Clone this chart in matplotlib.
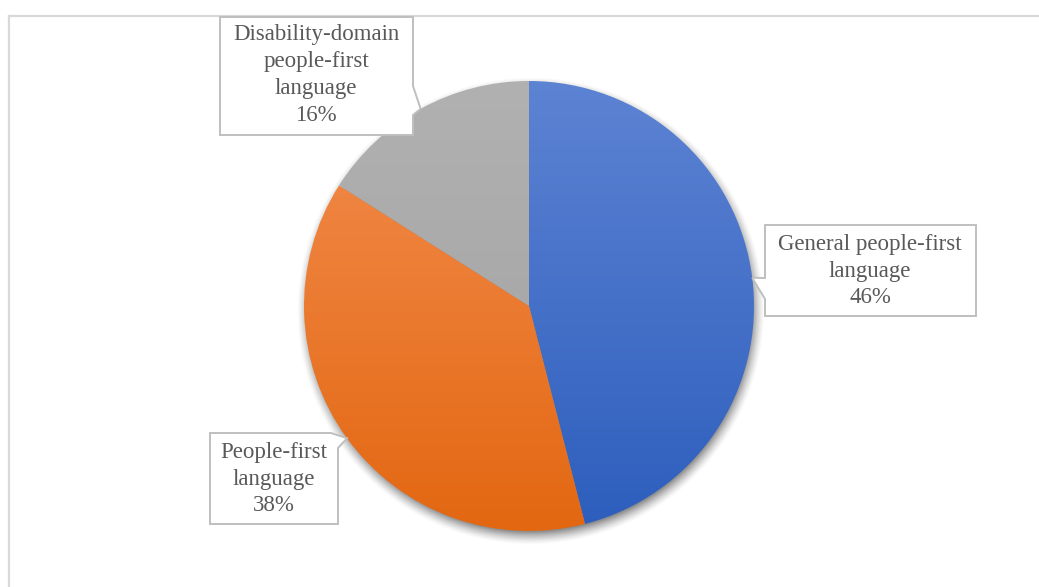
import numpy as np
import matplotlib
matplotlib.use("Agg")
import matplotlib.pyplot as plt
from matplotlib.path import Path
from matplotlib.patches import PathPatch
from matplotlib.lines import Line2D
from matplotlib.colors import to_rgb

# Data
categories = ["General people-first\nlanguage",
              "People-first\nlanguage",
              "Disability-domain\npeople-first\nlanguage"]
shares = [46, 38, 16]

# Vertical gradient colours for each slice (top -> bottom)
top_colors = ["#5d83d3", "#f38e50", "#b1b1b1"]
bottom_colors = ["#2d5ebd", "#e36711", "#a1a1a1"]

plt.rcParams['font.family'] = ['Liberation Serif', 'DejaVu Serif']

W, H = 1039, 587
fig = plt.figure(figsize=(W / 100, H / 100), dpi=100)
fig.patch.set_facecolor("white")

# Pie placement in pixels (origin at top-left)
cx, cy, R = 529, 306, 225
lim = 1.15
side = 2 * R * lim
ax = fig.add_axes([(cx - R * lim) / W, (H - cy - R * lim) / H, side / W, side / H])

wedges, _ = ax.pie(shares, startangle=90, counterclock=False, radius=1,
                   center=(0, 0), wedgeprops=dict(linewidth=0))
ax.set_xlim(-lim, lim)
ax.set_ylim(-lim, lim)
ax.set_aspect("equal")
ax.axis("off")

# Soft drop shadow beneath the pie
n = 600
xs = np.linspace(-lim, lim, n)
X, Y = np.meshgrid(xs, xs[::-1])
d = np.hypot(X - 0.008, Y + 0.022)
alpha = np.clip((1.04 - d) / 0.06, 0, 1) ** 1.4 * 0.65
shadow = np.zeros((n, n, 4))
shadow[..., :3] = 0.3
shadow[..., 3] = alpha
ax.imshow(shadow, extent=(-lim, lim, -lim, lim), zorder=0, interpolation="bilinear")

# Gradient fill for each slice, clipped to the wedge
t = np.linspace(0, 1, 256)[:, None]
for w, c0, c1 in zip(wedges, top_colors, bottom_colors):
    c0 = np.array(to_rgb(c0))
    c1 = np.array(to_rgb(c1))
    grad = (c0[None, None, :] * (1 - t[..., None]) + c1[None, None, :] * t[..., None])
    w.set_facecolor("none")
    w.set_zorder(1)
    im = ax.imshow(grad, extent=(-1, 1, -1, 1), origin="upper", aspect="auto",
                   zorder=1, interpolation="bilinear")
    im.set_clip_path(w)
ax.set_xlim(-lim, lim)
ax.set_ylim(-lim, lim)

# Callout label boxes (pixel coords, origin top-left); None marks the pointer tip
callouts = [
    dict(shape=[(765, 225), (976, 225), (976, 316), (765, 316), (765, 299), None, (765, 278)],
         text_at=(870, 271)),
    dict(shape=[(210, 433), (331, 433), None, (338, 448), (338, 524), (210, 524)],
         text_at=(274, 479)),
    dict(shape=[(220, 17), (413, 17), (413, 86), None, (413, 115), (413, 135), (220, 135)],
         text_at=(316, 75)),
]

to_fig = fig.transFigure.inverted()
fig.canvas.draw()
for w, cat, share, co in zip(wedges, categories, shares, callouts):
    mid = np.deg2rad((w.theta1 + w.theta2) / 2)
    tip_disp = ax.transData.transform((np.cos(mid), np.sin(mid)))
    tip_fig = to_fig.transform(tip_disp)
    verts = []
    for p in co["shape"]:
        if p is None:
            verts.append(tuple(tip_fig))
        else:
            verts.append((p[0] / W, 1 - p[1] / H))
    verts.append(verts[0])
    codes = [Path.MOVETO] + [Path.LINETO] * (len(verts) - 2) + [Path.CLOSEPOLY]
    patch = PathPatch(Path(verts, codes), transform=fig.transFigure,
                      facecolor="white", edgecolor="#bfbfbf", linewidth=1.4, zorder=5)
    fig.add_artist(patch)
    tx, ty = co["text_at"]
    fig.text(tx / W, 1 - ty / H, f"{cat}\n{share}%", ha="center", va="center",
             fontsize=16.5, color="#595959", linespacing=1.36, zorder=6)

# Chart area border (top and left edges)
border = dict(color="#d9d9d9", linewidth=1.6, transform=fig.transFigure)
fig.add_artist(Line2D([9 / W, 1], [1 - 16 / H, 1 - 16 / H], **border))
fig.add_artist(Line2D([9 / W, 9 / W], [0, 1 - 16 / H], **border))

fig.savefig("out.png", dpi=100)
